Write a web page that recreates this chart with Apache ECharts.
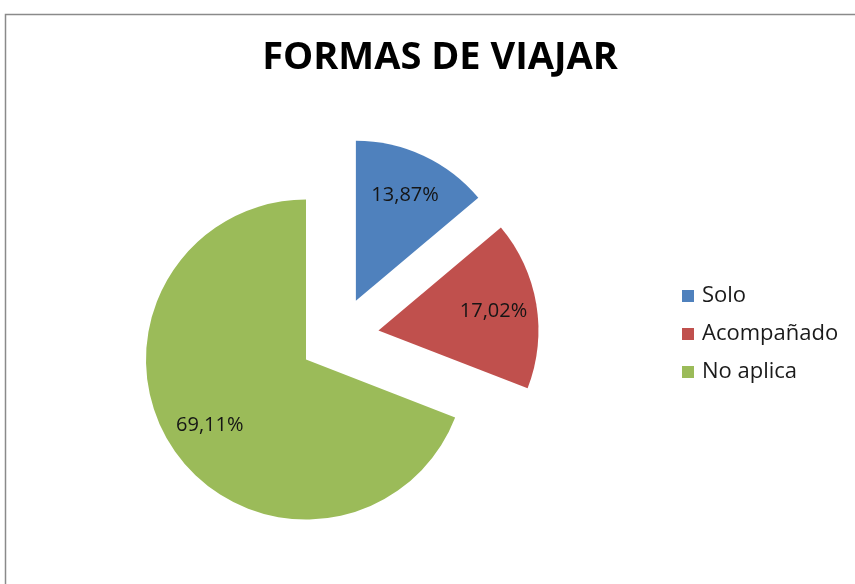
<!DOCTYPE html>
<html><head><meta charset="utf-8">
<script src="https://cdn.jsdelivr.net/npm/echarts@6/dist/echarts.min.js"></script>
<style>html,body{margin:0;padding:0;background:#fff}#c{width:855px;height:584px}</style>
</head><body><div id="c"></div>
<script>
const titleText = 'FORMAS DE VIAJAR';
const categories = ['Solo', 'Acompañado', 'No aplica'];
const values = [13.87, 17.02, 69.11];
const colors = ['#4F81BD', '#C0504D', '#9BBB59'];

const chart = echarts.init(document.getElementById('c'));
const fmt = p => p.value.toFixed(2).replace('.', ',') + '%';
const pieData = categories.map((n, i) => ({ name: n, value: values[i], selected: true, itemStyle: { color: colors[i] } }));
const labelData = categories.map((n, i) => ({ name: n, value: values[i], selected: true }));
const center = [339, 337];
const R = 160;
chart.setOption({
  animation: false,
  title: { text: titleText, left: 435, top: 34, textAlign: 'center',
    textStyle: { fontFamily: 'Open Sans', fontWeight: 'bold', fontSize: 38, color: '#000' } },
  legend: { orient: 'vertical', left: 677, top: 280, itemWidth: 12, itemHeight: 12, itemGap: 16,
    icon: 'rect', selectedMode: false, data: categories,
    textStyle: { fontFamily: 'Open Sans', fontSize: 22, color: '#1a1a1a', padding: [0,0,0,3] } },
  graphic: [{ type: 'rect', shape: { x: 5.5, y: 14.5, width: 1000, height: 1000 }, style: { fill: 'none', stroke: '#8a8a8a', lineWidth: 1.5 }, silent: true }],
  series: [
    { type: 'pie', center: center, radius: [0, R], startAngle: 90, clockwise: true,
      selectedMode: 'multiple', selectedOffset: 40, emphasis: { disabled: true }, silent: true,
      label: { show: false }, labelLine: { show: false }, data: pieData },
    { type: 'pie', center: center, radius: [R * 0.42, R], startAngle: 90, clockwise: true,
      selectedMode: 'multiple', selectedOffset: 40, emphasis: { disabled: true }, silent: true,
      itemStyle: { color: 'rgba(0,0,0,0)' }, legendHoverLink: false,
      label: { show: true, position: 'inside', formatter: fmt, fontFamily: 'Open Sans', fontSize: 20, color: '#151515' },
      labelLine: { show: false }, data: labelData }
  ]
});
</script></body></html>
